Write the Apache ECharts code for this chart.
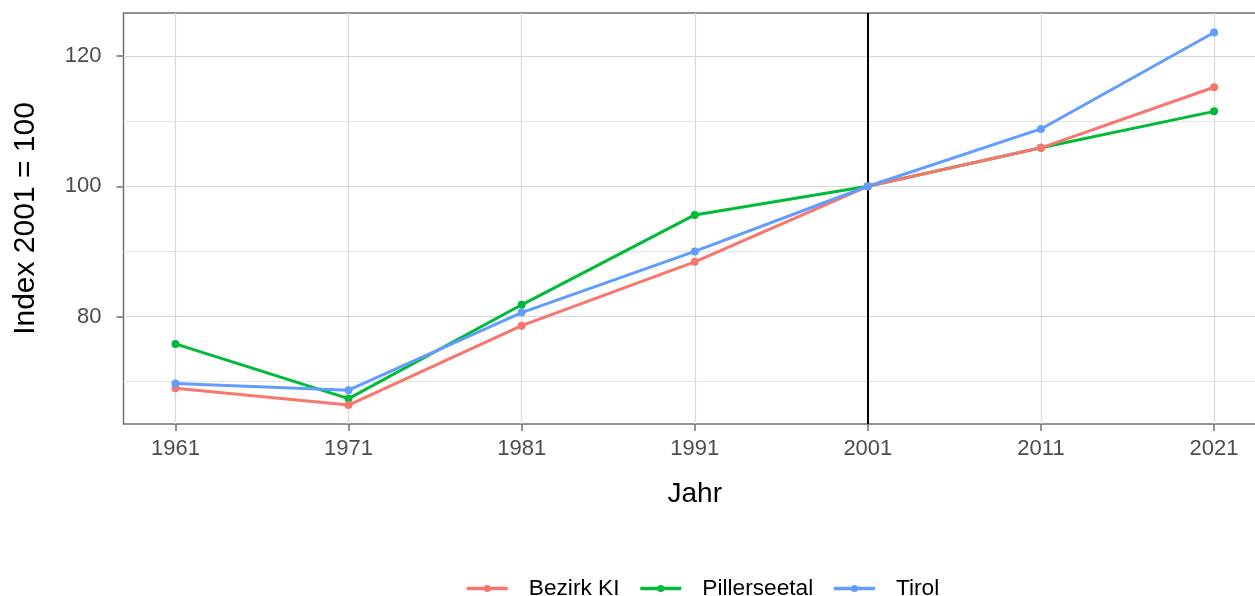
<!DOCTYPE html>
<html>
<head>
<meta charset="utf-8">
<script src="https://cdn.jsdelivr.net/npm/echarts@6/dist/echarts.min.js"></script>
<style>
html, body { margin: 0; padding: 0; overflow: hidden; background: #fff; }
#chart { width: 1266px; height: 596px; }
</style>
</head>
<body>
<div id="chart"></div>
<script>
var years = [1961, 1971, 1981, 1991, 2001, 2011, 2021];
var bezirkKI = [69.0, 66.4, 78.6, 88.4, 100, 105.9, 115.2];
var pillerseetal = [75.8, 67.4, 81.8, 95.6, 100, 105.9, 111.5];
var tirol = [69.7, 68.7, 80.6, 90.0, 100, 108.8, 123.6];
var yMajor = [80, 100, 120];
var yMinor = [70, 90, 110];
var refYear = 2001;

var colors = ['#F8766D', '#00BA38', '#619CFF'];
var names = ['Bezirk KI', 'Pillerseetal', 'Tirol'];
var values = [bezirkKI, pillerseetal, tirol];

function pairs(_y) {
	var out = [];
	for (var i = 0; i < years.length; i++) {
		out.push([years[i], _y[i]]);
	}
	return out;
}

var series = [];
for (var i = 0; i < names.length; i++) {
	series.push({
		name: names[i],
		type: 'line',
		data: pairs(values[i]),
		z: i == 1 ? 3 : (i == 0 ? 4 : 5),
		symbol: 'circle',
		symbolSize: 8,
		color: colors[i],
		lineStyle: { width: 3, color: colors[i] },
		itemStyle: { color: colors[i] },
		emphasis: { disabled: true },
		animation: false
	});
}
series[0].markLine = {
	silent: true,
	symbol: 'none',
	label: { show: false },
	lineStyle: { color: '#000', width: 2, type: 'solid' },
	data: [{ xAxis: refYear }],
	z: 2
};

var chartOption = {
	textStyle: { fontFamily: 'Liberation Sans, Arial, sans-serif' },
	animation: false,
	grid: {
		left: 123.5,
		right: 0,
		top: 13,
		bottom: 172,
		show: true,
		borderColor: '#707070',
		borderWidth: 1.5,
		containLabel: false
	},
	legend: {
		left: 460,
		top: 572,
		itemWidth: 41,
		itemHeight: 9,
		itemGap: 19,
		data: names,
		lineStyle: { width: 3.5 },
		textStyle: { fontSize: 22.7, color: '#000', padding: [0, 0, 0, 16] }
	},
	xAxis: {
		type: 'value',
		min: 1958,
		max: 2024,
		name: 'Jahr',
		nameLocation: 'middle',
		nameGap: 56,
		nameTextStyle: { fontSize: 28, color: '#000' },
		axisLine: { show: false },
		axisTick: { show: true, length: 7, customValues: years, lineStyle: { color: '#707070', width: 1.5 } },
		axisLabel: {
			customValues: years, fontSize: 22, color: '#4D4D4D', margin: 14,
			formatter: function(v) { return String(v); }
		},
		splitLine: { show: true, lineStyle: { color: '#D9D9D9', width: 1.2 } }
	},
	yAxis: [{
		type: 'value',
		min: 63.5,
		max: 126.6,
		name: 'Index 2001 = 100',
		nameLocation: 'middle',
		nameGap: 83,
		nameTextStyle: { fontSize: 30, color: '#000' },
		axisLine: { show: false },
		axisTick: { show: true, length: 7, customValues: yMajor, lineStyle: { color: '#707070', width: 1.5 } },
		axisLabel: { customValues: yMajor, fontSize: 22, color: '#4D4D4D', margin: 22 },
		splitLine: { show: true, lineStyle: { color: '#D9D9D9', width: 1.2 } }
	}, {
		type: 'value',
		position: 'left',
		min: 63.5,
		max: 126.6,
		axisLine: { show: false },
		axisTick: { show: false, customValues: yMinor },
		axisLabel: { show: false, customValues: yMinor },
		splitLine: { show: true, lineStyle: { color: '#E3E3E3', width: 1 } }
	}],
	series: series
};

var lineChart = echarts.init(document.getElementById('chart'));
lineChart.setOption(chartOption);
</script>
</body>
</html>
